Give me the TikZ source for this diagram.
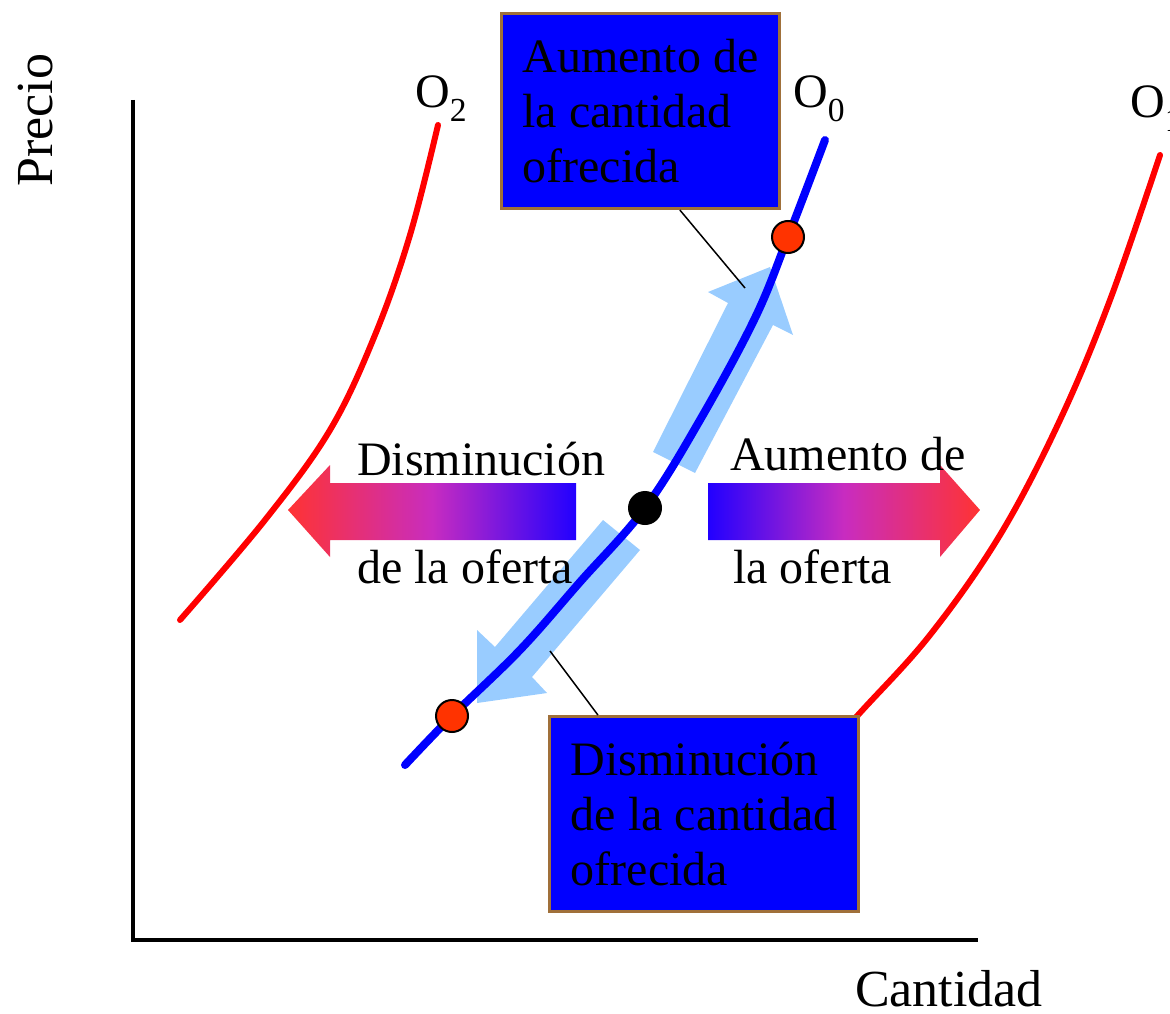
\documentclass[tikz,border=0pt]{standalone}
\usepackage{fontspec}
\setmainfont{Liberation Serif}
\usetikzlibrary{calc}
\definecolor{lightarrow}{HTML}{99CCFF}
\definecolor{boxblue}{HTML}{0000FF}
\definecolor{boxedge}{HTML}{A0703A}
\definecolor{dotred}{HTML}{FF3300}
\definecolor{shred}{HTML}{FF3333}
\definecolor{shmid}{HTML}{C82CC0}
\definecolor{shblue}{HTML}{2200FF}
\begin{document}
\begin{tikzpicture}[x=1pt,y=-1pt,
  lbl/.style={font=\fontsize{48}{55}\selectfont, inner sep=0pt},
  axlbl/.style={font=\fontsize{52}{60}\selectfont, inner sep=0pt},
  infobox/.style={draw=boxedge, line width=3pt, fill=boxblue, align=left,
    font=\fontsize{48}{55}\selectfont, inner sep=0pt},
  redcurve/.style={draw=red, line width=6pt, line cap=round},
  bluecurve/.style={draw=blue, line width=8pt, line cap=round},
  callout/.style={draw=black, line width=1.5pt},
  axis/.style={draw=black, line width=4pt},
  pointdot/.style={circle, draw=black, line width=2pt, minimum size=32pt, inner sep=0pt}]
\useasboundingbox (0,0) rectangle (1170,1014);
% light blue movement arrows
\fill[lightarrow] (653,452) -- (728,303) -- (708,292) -- (770,267) -- (793,335) -- (773,325) -- (695,473) -- cycle;
\fill[lightarrow] (603,520) -- (495,647) -- (477,630) -- (477,703) -- (547,693) -- (532,677) -- (640,550) -- cycle;
% callout lines
\coordinate (c1) at (745,288);
\coordinate (c2) at (550,651);
% axes
\coordinate (ytop) at (133,100);
\coordinate (orig) at (133,940);
\coordinate (xend) at (978,940);
\draw[axis] (ytop) -- (orig) -- (xend);
% supply curves
\draw[redcurve] plot[smooth, tension=0.6] coordinates {(180,620) (265,520) (330,430) (375,335) (410,235) (438,125)};
\draw[redcurve] plot[smooth, tension=0.6] coordinates {(790,790) (858,715) (930,635) (1000,535) (1060,420) (1110,300) (1160,155)};
\draw[bluecurve] plot[smooth, tension=0.6] coordinates {(405,765) (452,716) (520,650) (580,582) (645,508) (700,420) (755,318) (788,237) (825,140)};
% boxes
\node[infobox, minimum width=278pt, minimum height=195pt, anchor=north west] (b1) at (500,12) {Aumento de\\la cantidad\\ofrecida};
\node[infobox, minimum width=309pt, minimum height=195pt, anchor=north west] (b2) at (548,715) {Disminución\\de la cantidad\\ofrecida};
\draw[callout] ($(b1.south west)!0.64!(b1.south east)$) -- (c1);
\draw[callout] ($(b2.north west)!0.16!(b2.north east)$) -- (c2);
% points
\node[pointdot, fill=black] (e0) at (645,508) {};
\node[pointdot, fill=dotred] (e1) at (788,237) {};
\node[pointdot, fill=dotred] (e2) at (452,716) {};
% gradient shift arrows
\shade[left color=shred, right color=shblue, middle color=shmid] (288,510) -- (330,465) -- (330,483) -- (576,483) -- (576,540) -- (330,540) -- (330,557) -- cycle;
\shade[left color=shblue, right color=shred, middle color=shmid] (708,483) -- (940,483) -- (940,465) -- (980,510) -- (940,557) -- (940,540) -- (708,540) -- cycle;
% labels
\node[lbl, anchor=base west] (t1) at (357,475) {Disminución};
\node[lbl, anchor=base west] (t2) at (357,583) {de la oferta};
\node[lbl, anchor=base west] (t3) at (730,470) {Aumento de};
\node[lbl, anchor=base west] (t4) at (733,583) {la oferta};
\node[lbl, anchor=base west] (o2) at (415,108) {O\textsubscript{2}};
\node[lbl, anchor=base west] (o0) at (793,108) {O\textsubscript{0}};
\node[lbl, anchor=base west] (o1) at (1130,118) {O\textsubscript{1}};
\node[axlbl, rotate=90, anchor=base] (py) at (52,120) {Precio};
\node[axlbl, anchor=base west] (qx) at (855,1006) {Cantidad};
\end{tikzpicture}
\end{document}
